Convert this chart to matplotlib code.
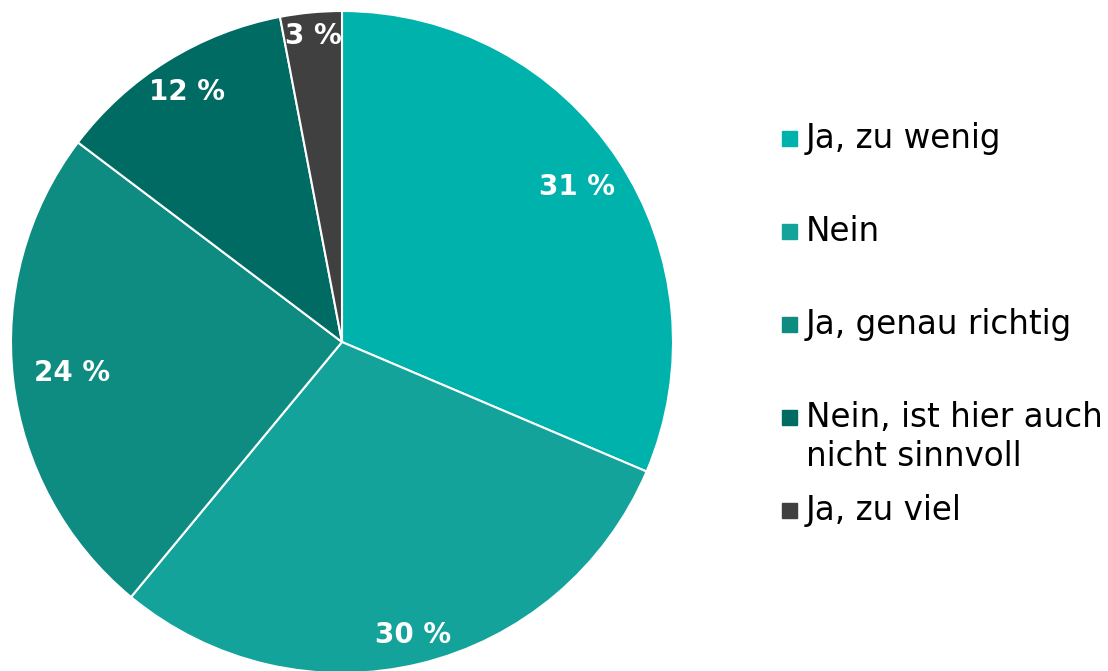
import numpy as np
import matplotlib.pyplot as plt
from matplotlib.patches import Rectangle

labels = ["Ja, zu wenig", "Nein", "Ja, genau richtig",
          "Nein, ist hier auch\nnicht sinnvoll", "Ja, zu viel"]
shares = [31.4, 29.6, 24.3, 11.7, 3.0]
colors = ["#00b2ac", "#14a39a", "#0e8c82", "#006b63", "#404040"]

# distance of each percent label from the centre (fraction of radius)
label_r = [0.85, 0.91, 0.82, 0.89, 0.93]

W, H = 1108, 671
fig = plt.figure(figsize=(W / 100, H / 100), dpi=100)

cx, cy, r = 342, 342, 331
ax = fig.add_axes([(cx - r) / W, (H - cy - r) / H, 2 * r / W, 2 * r / H])
wedges, _ = ax.pie(shares, colors=colors, startangle=90, counterclock=False,
                   wedgeprops=dict(edgecolor="white", linewidth=1.5))
ax.set_xlim(-1, 1)
ax.set_ylim(-1, 1)
ax.set_aspect("equal")
ax.axis("off")

for w, val, lr in zip(wedges, shares, label_r):
    ang = np.deg2rad((w.theta1 + w.theta2) / 2)
    ax.text(lr * np.cos(ang), lr * np.sin(ang), f"{round(val)} %", ha="center", va="center",
            color="white", fontsize=20, fontweight="bold")

# legend drawn by hand, Excel style: fixed step per entry, first line next to the square
y0, step, line_h = 138, 93, 39
for i, (lab, col) in enumerate(zip(labels, colors)):
    y = y0 + step * i
    fig.patches.append(Rectangle((782 / W, (H - y - 7.5) / H), 15 / W, 15 / H,
                                 transform=fig.transFigure, color=col))
    for k, line in enumerate(lab.split("\n")):
        fig.text(806 / W, (H - y - 10 - line_h * k) / H, line, ha="left", va="baseline",
                 fontsize=23.5, color="black")

fig.savefig("out.png", dpi=100)
